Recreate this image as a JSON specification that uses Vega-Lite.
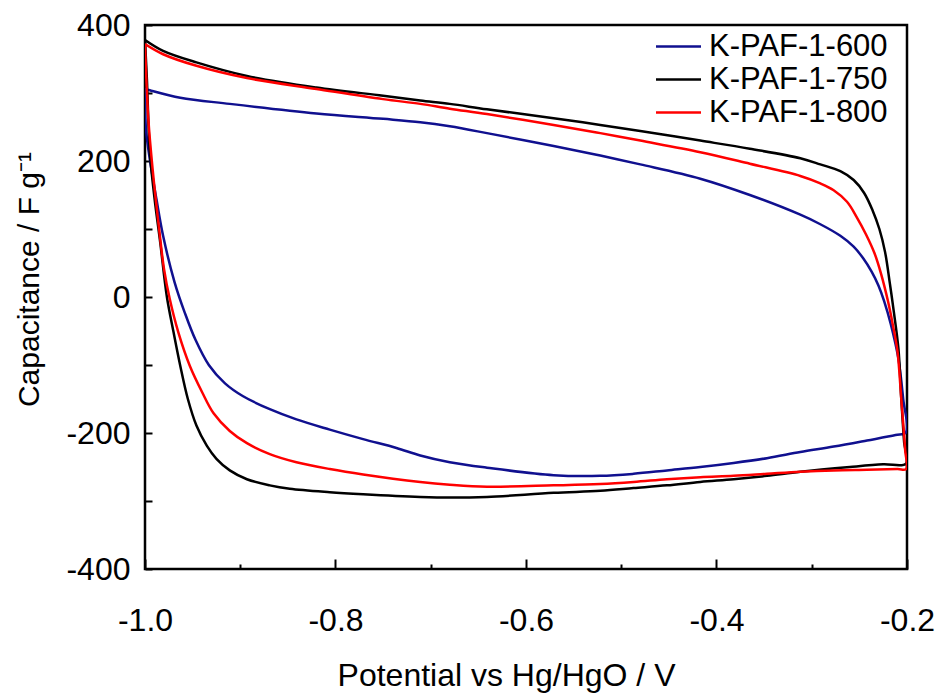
{
  "$schema": "https://vega.github.io/schema/vega-lite/v6.json",
  "autosize": {"type": "none"},
  "width": 762,
  "height": 544,
  "padding": {"left": 145, "top": 25, "right": 33, "bottom": 124},
  "background": "white",
  "config": {
    "view": {"stroke": "#000000", "strokeWidth": 2.5},
    "font": "Liberation Sans",
    "axis": {"labelFont": "Liberation Sans", "titleFont": "Liberation Sans", "labelColor": "#000", "titleColor": "#000", "titleFontWeight": "normal", "labelFontSize": 32, "titleFontSize": 32, "domain": false, "grid": false, "tickColor": "#000", "tickWidth": 2},
    "legend": {"labelFont": "Liberation Sans", "labelFontSize": 31, "labelColor": "#000"}
  },
  "data": {
    "values": [
      {"s": "K-PAF-1-600", "i": 1, "x": -1.0, "y": 306},
      {"s": "K-PAF-1-600", "i": 2, "x": -0.995, "y": 304},
      {"s": "K-PAF-1-600", "i": 3, "x": -0.963, "y": 293},
      {"s": "K-PAF-1-600", "i": 4, "x": -0.911, "y": 284},
      {"s": "K-PAF-1-600", "i": 5, "x": -0.82, "y": 270},
      {"s": "K-PAF-1-600", "i": 6, "x": -0.75, "y": 262},
      {"s": "K-PAF-1-600", "i": 7, "x": -0.711, "y": 257},
      {"s": "K-PAF-1-600", "i": 8, "x": -0.68, "y": 251},
      {"s": "K-PAF-1-600", "i": 9, "x": -0.641, "y": 241},
      {"s": "K-PAF-1-600", "i": 10, "x": -0.571, "y": 222},
      {"s": "K-PAF-1-600", "i": 11, "x": -0.522, "y": 208},
      {"s": "K-PAF-1-600", "i": 12, "x": -0.48, "y": 195},
      {"s": "K-PAF-1-600", "i": 13, "x": -0.417, "y": 174},
      {"s": "K-PAF-1-600", "i": 14, "x": -0.365, "y": 150},
      {"s": "K-PAF-1-600", "i": 15, "x": -0.312, "y": 121},
      {"s": "K-PAF-1-600", "i": 16, "x": -0.291, "y": 107},
      {"s": "K-PAF-1-600", "i": 17, "x": -0.27, "y": 90},
      {"s": "K-PAF-1-600", "i": 18, "x": -0.256, "y": 74},
      {"s": "K-PAF-1-600", "i": 19, "x": -0.246, "y": 57},
      {"s": "K-PAF-1-600", "i": 20, "x": -0.237, "y": 37},
      {"s": "K-PAF-1-600", "i": 21, "x": -0.23, "y": 17},
      {"s": "K-PAF-1-600", "i": 22, "x": -0.224, "y": -6},
      {"s": "K-PAF-1-600", "i": 23, "x": -0.217, "y": -40},
      {"s": "K-PAF-1-600", "i": 24, "x": -0.209, "y": -91},
      {"s": "K-PAF-1-600", "i": 25, "x": -0.204, "y": -150},
      {"s": "K-PAF-1-600", "i": 26, "x": -0.201, "y": -199},
      {"s": "K-PAF-1-600", "i": 27, "x": -0.212, "y": -203},
      {"s": "K-PAF-1-600", "i": 28, "x": -0.242, "y": -211},
      {"s": "K-PAF-1-600", "i": 29, "x": -0.277, "y": -220},
      {"s": "K-PAF-1-600", "i": 30, "x": -0.312, "y": -228},
      {"s": "K-PAF-1-600", "i": 31, "x": -0.347, "y": -237},
      {"s": "K-PAF-1-600", "i": 32, "x": -0.382, "y": -244},
      {"s": "K-PAF-1-600", "i": 33, "x": -0.417, "y": -250},
      {"s": "K-PAF-1-600", "i": 34, "x": -0.452, "y": -255},
      {"s": "K-PAF-1-600", "i": 35, "x": -0.487, "y": -260},
      {"s": "K-PAF-1-600", "i": 36, "x": -0.522, "y": -263},
      {"s": "K-PAF-1-600", "i": 37, "x": -0.571, "y": -262},
      {"s": "K-PAF-1-600", "i": 38, "x": -0.641, "y": -251},
      {"s": "K-PAF-1-600", "i": 39, "x": -0.68, "y": -243},
      {"s": "K-PAF-1-600", "i": 40, "x": -0.711, "y": -233},
      {"s": "K-PAF-1-600", "i": 41, "x": -0.736, "y": -222},
      {"s": "K-PAF-1-600", "i": 42, "x": -0.771, "y": -209},
      {"s": "K-PAF-1-600", "i": 43, "x": -0.806, "y": -195},
      {"s": "K-PAF-1-600", "i": 44, "x": -0.841, "y": -180},
      {"s": "K-PAF-1-600", "i": 45, "x": -0.869, "y": -165},
      {"s": "K-PAF-1-600", "i": 46, "x": -0.897, "y": -146},
      {"s": "K-PAF-1-600", "i": 47, "x": -0.916, "y": -127},
      {"s": "K-PAF-1-600", "i": 48, "x": -0.933, "y": -100},
      {"s": "K-PAF-1-600", "i": 49, "x": -0.947, "y": -63},
      {"s": "K-PAF-1-600", "i": 50, "x": -0.958, "y": -24},
      {"s": "K-PAF-1-600", "i": 51, "x": -0.969, "y": 22},
      {"s": "K-PAF-1-600", "i": 52, "x": -0.981, "y": 90},
      {"s": "K-PAF-1-600", "i": 53, "x": -0.988, "y": 144},
      {"s": "K-PAF-1-600", "i": 54, "x": -0.995, "y": 203},
      {"s": "K-PAF-1-600", "i": 55, "x": -0.999, "y": 247},
      {"s": "K-PAF-1-600", "i": 56, "x": -1.0, "y": 306},

      {"s": "K-PAF-1-750", "i": 1, "x": -1.0, "y": 378},
      {"s": "K-PAF-1-750", "i": 2, "x": -0.981, "y": 362},
      {"s": "K-PAF-1-750", "i": 3, "x": -0.946, "y": 345},
      {"s": "K-PAF-1-750", "i": 4, "x": -0.893, "y": 325},
      {"s": "K-PAF-1-750", "i": 5, "x": -0.82, "y": 308},
      {"s": "K-PAF-1-750", "i": 6, "x": -0.75, "y": 296},
      {"s": "K-PAF-1-750", "i": 7, "x": -0.711, "y": 289},
      {"s": "K-PAF-1-750", "i": 8, "x": -0.68, "y": 284},
      {"s": "K-PAF-1-750", "i": 9, "x": -0.641, "y": 276},
      {"s": "K-PAF-1-750", "i": 10, "x": -0.571, "y": 263},
      {"s": "K-PAF-1-750", "i": 11, "x": -0.522, "y": 253},
      {"s": "K-PAF-1-750", "i": 12, "x": -0.47, "y": 242},
      {"s": "K-PAF-1-750", "i": 13, "x": -0.417, "y": 230},
      {"s": "K-PAF-1-750", "i": 14, "x": -0.365, "y": 218},
      {"s": "K-PAF-1-750", "i": 15, "x": -0.312, "y": 204},
      {"s": "K-PAF-1-750", "i": 16, "x": -0.291, "y": 195},
      {"s": "K-PAF-1-750", "i": 17, "x": -0.27, "y": 185},
      {"s": "K-PAF-1-750", "i": 18, "x": -0.256, "y": 172},
      {"s": "K-PAF-1-750", "i": 19, "x": -0.245, "y": 153},
      {"s": "K-PAF-1-750", "i": 20, "x": -0.236, "y": 127},
      {"s": "K-PAF-1-750", "i": 21, "x": -0.229, "y": 100},
      {"s": "K-PAF-1-750", "i": 22, "x": -0.223, "y": 66},
      {"s": "K-PAF-1-750", "i": 23, "x": -0.218, "y": 20},
      {"s": "K-PAF-1-750", "i": 24, "x": -0.214, "y": -20},
      {"s": "K-PAF-1-750", "i": 25, "x": -0.209, "y": -76},
      {"s": "K-PAF-1-750", "i": 26, "x": -0.206, "y": -150},
      {"s": "K-PAF-1-750", "i": 27, "x": -0.203, "y": -214},
      {"s": "K-PAF-1-750", "i": 28, "x": -0.201, "y": -245},
      {"s": "K-PAF-1-750", "i": 29, "x": -0.225, "y": -246},
      {"s": "K-PAF-1-750", "i": 30, "x": -0.26, "y": -250},
      {"s": "K-PAF-1-750", "i": 31, "x": -0.312, "y": -257},
      {"s": "K-PAF-1-750", "i": 32, "x": -0.347, "y": -263},
      {"s": "K-PAF-1-750", "i": 33, "x": -0.382, "y": -268},
      {"s": "K-PAF-1-750", "i": 34, "x": -0.417, "y": -272},
      {"s": "K-PAF-1-750", "i": 35, "x": -0.452, "y": -277},
      {"s": "K-PAF-1-750", "i": 36, "x": -0.487, "y": -281},
      {"s": "K-PAF-1-750", "i": 37, "x": -0.522, "y": -285},
      {"s": "K-PAF-1-750", "i": 38, "x": -0.571, "y": -288},
      {"s": "K-PAF-1-750", "i": 39, "x": -0.641, "y": -294},
      {"s": "K-PAF-1-750", "i": 40, "x": -0.68, "y": -295},
      {"s": "K-PAF-1-750", "i": 41, "x": -0.711, "y": -294},
      {"s": "K-PAF-1-750", "i": 42, "x": -0.771, "y": -290},
      {"s": "K-PAF-1-750", "i": 43, "x": -0.806, "y": -287},
      {"s": "K-PAF-1-750", "i": 44, "x": -0.848, "y": -282},
      {"s": "K-PAF-1-750", "i": 45, "x": -0.869, "y": -277},
      {"s": "K-PAF-1-750", "i": 46, "x": -0.893, "y": -268},
      {"s": "K-PAF-1-750", "i": 47, "x": -0.911, "y": -255},
      {"s": "K-PAF-1-750", "i": 48, "x": -0.925, "y": -238},
      {"s": "K-PAF-1-750", "i": 49, "x": -0.935, "y": -219},
      {"s": "K-PAF-1-750", "i": 50, "x": -0.946, "y": -189},
      {"s": "K-PAF-1-750", "i": 51, "x": -0.955, "y": -150},
      {"s": "K-PAF-1-750", "i": 52, "x": -0.963, "y": -101},
      {"s": "K-PAF-1-750", "i": 53, "x": -0.970, "y": -52},
      {"s": "K-PAF-1-750", "i": 54, "x": -0.977, "y": 0},
      {"s": "K-PAF-1-750", "i": 55, "x": -0.984, "y": 80},
      {"s": "K-PAF-1-750", "i": 56, "x": -0.990, "y": 145},
      {"s": "K-PAF-1-750", "i": 57, "x": -0.995, "y": 215},
      {"s": "K-PAF-1-750", "i": 58, "x": -0.998, "y": 320},
      {"s": "K-PAF-1-750", "i": 59, "x": -1.0, "y": 378},

      {"s": "K-PAF-1-800", "i": 1, "x": -1.0, "y": 372},
      {"s": "K-PAF-1-800", "i": 2, "x": -0.981, "y": 357},
      {"s": "K-PAF-1-800", "i": 3, "x": -0.946, "y": 340},
      {"s": "K-PAF-1-800", "i": 4, "x": -0.893, "y": 322},
      {"s": "K-PAF-1-800", "i": 5, "x": -0.82, "y": 306},
      {"s": "K-PAF-1-800", "i": 6, "x": -0.75, "y": 291},
      {"s": "K-PAF-1-800", "i": 7, "x": -0.711, "y": 284},
      {"s": "K-PAF-1-800", "i": 8, "x": -0.68, "y": 277},
      {"s": "K-PAF-1-800", "i": 9, "x": -0.641, "y": 269},
      {"s": "K-PAF-1-800", "i": 10, "x": -0.571, "y": 253},
      {"s": "K-PAF-1-800", "i": 11, "x": -0.522, "y": 241},
      {"s": "K-PAF-1-800", "i": 12, "x": -0.48, "y": 230},
      {"s": "K-PAF-1-800", "i": 13, "x": -0.417, "y": 213},
      {"s": "K-PAF-1-800", "i": 14, "x": -0.365, "y": 196},
      {"s": "K-PAF-1-800", "i": 15, "x": -0.312, "y": 178},
      {"s": "K-PAF-1-800", "i": 16, "x": -0.291, "y": 167},
      {"s": "K-PAF-1-800", "i": 17, "x": -0.277, "y": 157},
      {"s": "K-PAF-1-800", "i": 18, "x": -0.263, "y": 140},
      {"s": "K-PAF-1-800", "i": 19, "x": -0.253, "y": 118},
      {"s": "K-PAF-1-800", "i": 20, "x": -0.243, "y": 92},
      {"s": "K-PAF-1-800", "i": 21, "x": -0.234, "y": 64},
      {"s": "K-PAF-1-800", "i": 22, "x": -0.227, "y": 33},
      {"s": "K-PAF-1-800", "i": 23, "x": -0.220, "y": -6},
      {"s": "K-PAF-1-800", "i": 24, "x": -0.215, "y": -40},
      {"s": "K-PAF-1-800", "i": 25, "x": -0.21, "y": -80},
      {"s": "K-PAF-1-800", "i": 26, "x": -0.206, "y": -150},
      {"s": "K-PAF-1-800", "i": 27, "x": -0.202, "y": -224},
      {"s": "K-PAF-1-800", "i": 28, "x": -0.201, "y": -253},
      {"s": "K-PAF-1-800", "i": 29, "x": -0.21, "y": -253},
      {"s": "K-PAF-1-800", "i": 30, "x": -0.242, "y": -254},
      {"s": "K-PAF-1-800", "i": 31, "x": -0.277, "y": -255},
      {"s": "K-PAF-1-800", "i": 32, "x": -0.312, "y": -257},
      {"s": "K-PAF-1-800", "i": 33, "x": -0.347, "y": -260},
      {"s": "K-PAF-1-800", "i": 34, "x": -0.382, "y": -263},
      {"s": "K-PAF-1-800", "i": 35, "x": -0.417, "y": -265},
      {"s": "K-PAF-1-800", "i": 36, "x": -0.452, "y": -268},
      {"s": "K-PAF-1-800", "i": 37, "x": -0.487, "y": -272},
      {"s": "K-PAF-1-800", "i": 38, "x": -0.522, "y": -275},
      {"s": "K-PAF-1-800", "i": 39, "x": -0.571, "y": -277},
      {"s": "K-PAF-1-800", "i": 40, "x": -0.641, "y": -279},
      {"s": "K-PAF-1-800", "i": 41, "x": -0.68, "y": -276},
      {"s": "K-PAF-1-800", "i": 42, "x": -0.711, "y": -272},
      {"s": "K-PAF-1-800", "i": 43, "x": -0.771, "y": -261},
      {"s": "K-PAF-1-800", "i": 44, "x": -0.806, "y": -253},
      {"s": "K-PAF-1-800", "i": 45, "x": -0.841, "y": -243},
      {"s": "K-PAF-1-800", "i": 46, "x": -0.869, "y": -231},
      {"s": "K-PAF-1-800", "i": 47, "x": -0.893, "y": -215},
      {"s": "K-PAF-1-800", "i": 48, "x": -0.911, "y": -197},
      {"s": "K-PAF-1-800", "i": 49, "x": -0.928, "y": -171},
      {"s": "K-PAF-1-800", "i": 50, "x": -0.940, "y": -140},
      {"s": "K-PAF-1-800", "i": 51, "x": -0.953, "y": -101},
      {"s": "K-PAF-1-800", "i": 52, "x": -0.965, "y": -52},
      {"s": "K-PAF-1-800", "i": 53, "x": -0.974, "y": -3},
      {"s": "K-PAF-1-800", "i": 54, "x": -0.980, "y": 41},
      {"s": "K-PAF-1-800", "i": 55, "x": -0.986, "y": 110},
      {"s": "K-PAF-1-800", "i": 56, "x": -0.992, "y": 188},
      {"s": "K-PAF-1-800", "i": 57, "x": -0.9965, "y": 262},
      {"s": "K-PAF-1-800", "i": 58, "x": -1.0, "y": 372}
    ]
  },
  "mark": {"type": "line", "strokeWidth": 2.5, "interpolate": "catmull-rom", "clip": true},
  "encoding": {
    "x": {
      "field": "x", "type": "quantitative",
      "scale": {"domain": [-1.0, -0.2], "nice": false, "zero": false},
      "axis": {
        "title": "Potential vs Hg/HgO / V",
        "values": [-1.0, -0.9, -0.8, -0.7, -0.6, -0.5, -0.4, -0.3, -0.2],
        "labelExpr": "abs(round(datum.value*10)) % 2 == 0 ? '-' + format(abs(datum.value), '.1f') : ''",
        "tickSize": {"condition": {"test": "abs(round(datum.value*10)) % 2 == 0", "value": -10}, "value": -5},
        "labelPadding": 46,
        "labelFlush": false,
        "labelOverlap": false,
        "titlePadding": 19,
        "titleX": 361
      }
    },
    "y": {
      "field": "y", "type": "quantitative",
      "scale": {"domain": [-400, 400], "nice": false, "zero": false},
      "axis": {
        "title": "Capacitance / F g⁻¹",
        "values": [-400, -300, -200, -100, 0, 100, 200, 300, 400],
        "labelExpr": "abs(datum.value) % 200 == 0 ? (datum.value < 0 ? '-' : '') + abs(datum.value) : ''",
        "tickSize": -7,
        "labelPadding": 22,
        "labelFlush": false,
        "labelOverlap": false,
        "titleFontSize": 30,
        "titlePadding": 21,
        "titleY": 254
      }
    },
    "color": {
      "field": "s", "type": "nominal",
      "scale": {"domain": ["K-PAF-1-600", "K-PAF-1-750", "K-PAF-1-800"], "range": ["#10108f", "#000000", "#ff0000"]},
      "legend": {
        "title": null, "orient": "none", "legendX": 517, "legendY": 5,
        "symbolType": "M-1.5,0L1.5,0", "symbolSize": 900, "symbolStrokeWidth": 2.5,
        "labelOffset": 14, "rowPadding": 1, "padding": 0, "labelLimit": 400
      }
    },
    "order": {"field": "i", "type": "quantitative"}
  }
}
